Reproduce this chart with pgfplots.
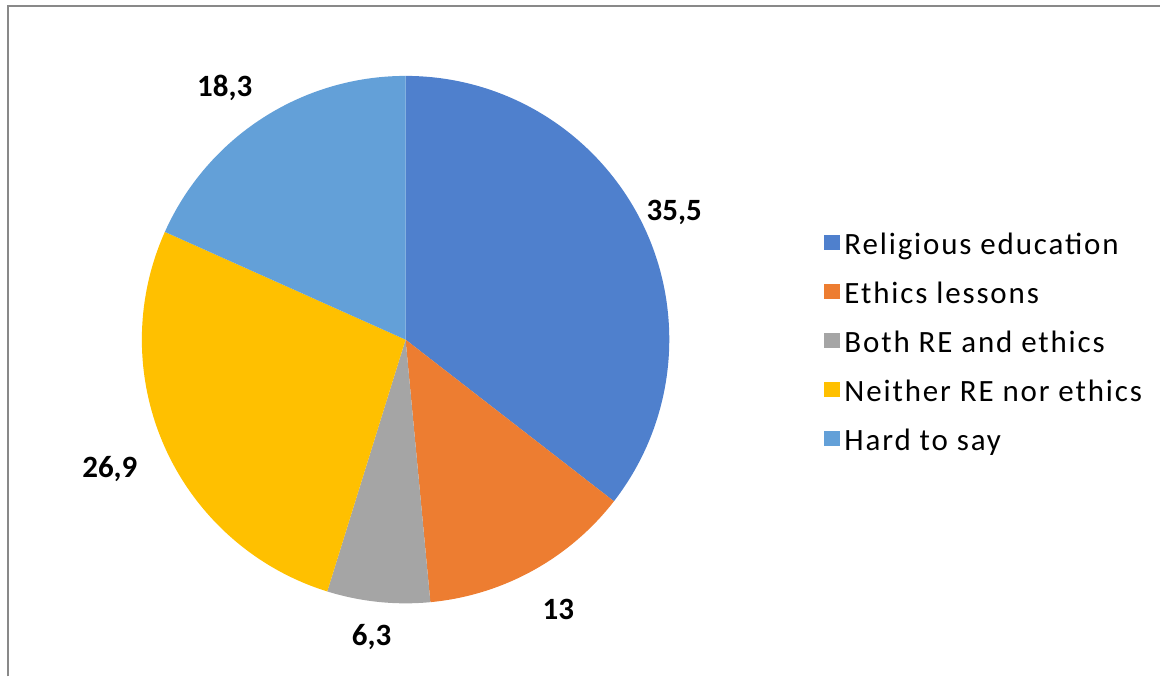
\documentclass[border=0pt]{standalone}
\usepackage{fontspec}
\setmainfont{Carlito}
\newfontfamily\legendfont{Carlito}[LetterSpace=6]
\usepackage{pgfplots}
\usepackage{pgfplotstable}
\pgfplotsset{compat=1.18}
\definecolor{slice0}{RGB}{79,128,205}
\definecolor{slice1}{RGB}{237,125,49}
\definecolor{slice2}{RGB}{165,165,165}
\definecolor{slice3}{RGB}{255,192,0}
\definecolor{slice4}{RGB}{99,160,216}
\definecolor{framegray}{RGB}{137,137,137}

% share (%), label position (x, y in px from bottom-left)
\pgfplotstableread{
value lx ly
35.5 675 464
13   559 67
6.3  372 39
26.9 110 207
18.3 225 589
}\piedata

\begin{document}
\begin{tikzpicture}
\begin{axis}[
  width=1161pt, height=677pt, scale only axis,
  xmin=0, xmax=1161, ymin=0, ymax=677,
  hide axis, clip=false,
  legend style={at={(axis cs:825,449)}, anchor=north west, draw=none, fill=none,
    inner sep=0pt, outer sep=0pt, row sep=19.5pt, column sep=4pt,
    font=\fontsize{31}{37}\legendfont\selectfont,
    nodes={inner sep=1pt}},
  legend cell align=left,
  legend image code/.code={\fill[#1] (0pt,-7pt) rectangle (15pt,7pt);},
]
\path (axis cs:0,0) rectangle (axis cs:1161,677);
\draw[framegray, line width=2.5pt] (axis cs:8,0) -- (axis cs:8,671) -- (axis cs:1161,671);

\def\startangle{90}
\pgfplotsforeachungrouped \i in {0,...,4}{%
  \pgfplotstablegetelem{\i}{value}\of\piedata \let\v\pgfplotsretval
  \pgfplotstablegetelem{\i}{lx}\of\piedata \let\lx\pgfplotsretval
  \pgfplotstablegetelem{\i}{ly}\of\piedata \let\ly\pgfplotsretval
  \pgfmathsetmacro\endangle{\startangle - 3.6*\v}%
  \edef\temp{%
    \noexpand\fill[slice\i] (axis cs:406,337) -- ++(\startangle:264pt)
      arc[start angle=\startangle, end angle=\endangle, radius=264pt] -- cycle;
    \noexpand\node[font=\noexpand\fontsize{31}{37}\noexpand\selectfont\noexpand\bfseries]
      at (axis cs:\lx,\ly) {\noexpand\pgfmathprintnumber[use comma, assume math mode=true]{\v}};
  }%
  \temp
  \global\let\startangle\endangle
}

\addlegendimage{slice0}\addlegendentry{\strut Religious education}
\addlegendimage{slice1}\addlegendentry{\strut Ethics lessons}
\addlegendimage{slice2}\addlegendentry{\strut Both RE and ethics}
\addlegendimage{slice3}\addlegendentry{\strut Neither RE nor ethics}
\addlegendimage{slice4}\addlegendentry{\strut Hard to say}
\end{axis}
\end{tikzpicture}
\end{document}
